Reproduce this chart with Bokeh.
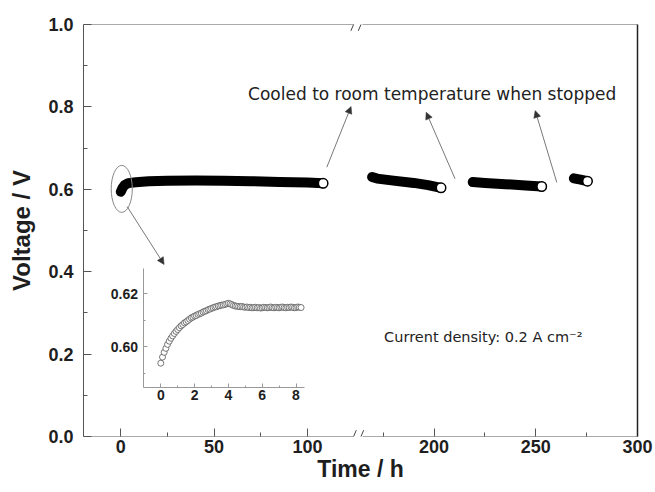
from bokeh.plotting import figure
from bokeh.models import (Range1d, LinearAxis, FixedTicker, PrintfTickFormatter,
                          Arrow, NormalHead, Label)
from bokeh.embed import file_html
from bokeh.resources import INLINE

# ---------------- data ----------------
seg1_time = [0, 1, 2, 4, 8, 15, 25, 40, 55, 70, 85, 100, 108.4]
seg1_volt = [0.594, 0.604, 0.610, 0.615, 0.617, 0.6195, 0.621, 0.6215, 0.621, 0.6195, 0.618, 0.6165, 0.6145]
seg2_time = [169.5, 172, 180, 190, 197, 203.4]
seg2_volt = [0.630, 0.626, 0.621, 0.6155, 0.610, 0.6036]
seg3_time = [219, 225, 235, 245, 252.9]
seg3_volt = [0.6175, 0.6155, 0.6125, 0.609, 0.6068]
seg4_time = [268.7, 272, 275.4]
seg4_volt = [0.6265, 0.6235, 0.6197]

inset_time = [0.0, 0.1, 0.2, 0.3, 0.4, 0.5, 0.6, 0.7, 0.8, 0.9,
              1.0, 1.1, 1.2, 1.3, 1.4, 1.5, 1.6, 1.7, 1.8, 1.9,
              2.0, 2.1, 2.2, 2.3, 2.4, 2.5, 2.6, 2.7, 2.8, 2.9,
              3.0, 3.1, 3.2, 3.3, 3.4, 3.5, 3.6, 3.7, 3.8, 3.9,
              4.0, 4.1, 4.2, 4.3, 4.4, 4.5, 4.6, 4.7, 4.8, 4.9,
              5.0, 5.1, 5.2, 5.3, 5.4, 5.5, 5.6, 5.7, 5.8, 5.9,
              6.0, 6.1, 6.2, 6.3, 6.4, 6.5, 6.6, 6.7, 6.8, 6.9,
              7.0, 7.1, 7.2, 7.3, 7.4, 7.5, 7.6, 7.7, 7.8, 7.9,
              8.0, 8.1, 8.2, 8.3]
inset_volt = [0.5937, 0.5960, 0.5978, 0.5993, 0.6008, 0.6020, 0.6031, 0.6040, 0.6049, 0.6057,
              0.6064, 0.6071, 0.6078, 0.6083, 0.6089, 0.6093, 0.6098, 0.6103, 0.6108, 0.6111,
              0.6115, 0.6117, 0.6121, 0.6124, 0.6126, 0.6130, 0.6133, 0.6135, 0.6139, 0.6141,
              0.6144, 0.6146, 0.6149, 0.6150, 0.6153, 0.6154, 0.6156, 0.6157, 0.6159, 0.6161,
              0.6163, 0.6161, 0.6158, 0.6155, 0.6153, 0.6152, 0.6151, 0.6150, 0.6151, 0.6149,
              0.6148, 0.6149, 0.6147, 0.6148, 0.6146, 0.6147, 0.6148, 0.6146, 0.6147, 0.6145,
              0.6146, 0.6148, 0.6147, 0.6146, 0.6147, 0.6149, 0.6147, 0.6146, 0.6148, 0.6147,
              0.6146, 0.6148, 0.6149, 0.6147, 0.6146, 0.6148, 0.6147, 0.6149, 0.6148, 0.6146,
              0.6147, 0.6149, 0.6148, 0.6147]

y_ticks = [0.0, 0.2, 0.4, 0.6, 0.8, 1.0]
y_minor = [0.1, 0.3, 0.5, 0.7, 0.9]
x_ticks_left = [0, 50, 100]
x_minor_left = [25, 75]
x_ticks_right = [200, 250, 300]
x_minor_right = [175, 225, 275]
inset_x_ticks = [0, 2, 4, 6, 8]
inset_x_minor = [1, 3, 5, 7]
inset_y_ticks = [0.60, 0.62]
inset_y_minor = [0.59, 0.61]

# ---------------- geometry / scales ----------------
FRAME_W, FRAME_H = 554, 412
LEFT_START, PX_PER_H_LEFT = -20.0, 1.866
RIGHT_END, PX_PER_H_RIGHT = 300.0, 2.034
BREAK_LEFT, BREAK_RIGHT = 124.7, 164.9     # axis ends on each side of the break
SLASHES = [124.75, 128.7]                   # break marks (left-scale hours)

left_end = LEFT_START + FRAME_W / PX_PER_H_LEFT
right_start = RIGHT_END - FRAME_W / PX_PER_H_RIGHT


def right_to_left(r):
    """position of a right-segment hour on the left-segment scale (same screen x)"""
    return round(LEFT_START + (r - right_start) * PX_PER_H_RIGHT / PX_PER_H_LEFT, 4)


INSET_T0_PX, INSET_PX_PER_H = 77.3, 16.9
INSET_V060_PX, INSET_PX_PER_V = 90.0, 2650.0
ix_start = -INSET_T0_PX / INSET_PX_PER_H
ix_end = ix_start + FRAME_W / INSET_PX_PER_H
iy_start = 0.60 - INSET_V060_PX / INSET_PX_PER_V
iy_end = iy_start + FRAME_H / INSET_PX_PER_V
INSET_XB = (-1.05, 8.52)
INSET_YB = (0.5846, 0.6295)

p = figure(width=653, height=484, output_backend="svg", toolbar_location=None,
           x_range=Range1d(LEFT_START, left_end), y_range=Range1d(0, 1.0),
           x_axis_location=None, y_axis_location=None,
           min_border_left=83, min_border_right=16, min_border_top=24, min_border_bottom=48)
p.extra_x_ranges = {"right": Range1d(right_start, RIGHT_END), "ix": Range1d(ix_start, ix_end)}
p.extra_y_ranges = {"iy": Range1d(iy_start, iy_end)}
p.outline_line_color = None
p.xgrid.visible = False
p.ygrid.visible = False
p.background_fill_color = "white"
p.border_fill_color = "white"

AX = "#555555"
TXT = "#1e1e1e"
FONT = "Liberation Sans"


def style(ax, size="18px", tin=8, mtin=4):
    ax.axis_line_color = AX
    ax.major_tick_line_color = AX
    ax.minor_tick_line_color = AX
    ax.major_tick_in = tin
    ax.major_tick_out = 0
    ax.minor_tick_in = mtin
    ax.minor_tick_out = 0
    ax.major_label_text_font = FONT
    ax.major_label_text_font_style = "bold"
    ax.major_label_text_font_size = size
    ax.major_label_text_color = TXT


# main y axis
ay = LinearAxis(ticker=FixedTicker(ticks=y_ticks, minor_ticks=y_minor),
                formatter=PrintfTickFormatter(format="%.1f"))
style(ay)
ay.major_label_standoff = 10
ay.axis_label = "Voltage / V"
ay.axis_label_text_font = FONT
ay.axis_label_text_font_style = "bold"
ay.axis_label_text_font_size = "24px"
ay.axis_label_text_color = TXT
ay.axis_label_standoff = 10
p.add_layout(ay, "left")

# bottom axis: ticks + labels of both segments (right segment mapped onto the same screen x)
bottom_ticks = x_ticks_left + [right_to_left(r) for r in x_ticks_right]
bottom_minor = x_minor_left + [right_to_left(r) for r in x_minor_right]
ab1 = LinearAxis(ticker=FixedTicker(ticks=bottom_ticks, minor_ticks=bottom_minor))
ab1.major_label_overrides = {right_to_left(r): str(r) for r in x_ticks_right}
style(ab1)
ab1.axis_line_color = None
ab1.major_label_standoff = 3
ab1.axis_label = "Time / h"
ab1.axis_label_text_font = FONT
ab1.axis_label_text_font_style = "bold"
ab1.axis_label_text_font_size = "23px"
ab1.axis_label_text_color = TXT
ab1.axis_label_standoff = 0
p.add_layout(ab1, "below")

# frame lines with the break (bottom and top)
for loc, side in ((0, "below"), (1.0, "above")):
    a1 = LinearAxis(ticker=FixedTicker(ticks=[]), bounds=(LEFT_START, BREAK_LEFT),
                    fixed_location=loc)
    style(a1)
    p.add_layout(a1, side)
    a2 = LinearAxis(x_range_name="right", ticker=FixedTicker(ticks=[]),
                    bounds=(BREAK_RIGHT, RIGHT_END), fixed_location=loc)
    style(a2)
    p.add_layout(a2, side)

# right frame line
ar = LinearAxis(ticker=FixedTicker(ticks=[]))
style(ar)
ar.axis_line_color = "#222222"
ar.axis_line_width = 1.5
p.add_layout(ar, "right")

# break marks
dxs, dys = 2.7 / PX_PER_H_LEFT, 6.3 / FRAME_H
for yb in (0.0, 1.0):
    for xs in SLASHES:
        p.add_layout(Arrow(end=None, start=None, x_start=xs - dxs, y_start=yb - dys,
                           x_end=xs + dxs, y_end=yb + dys, line_color="#444444", line_width=1))

# ---------------- main data ----------------
for t, v, rn in ((seg1_time, seg1_volt, "default"), (seg2_time, seg2_volt, "right"),
                 (seg3_time, seg3_volt, "right"), (seg4_time, seg4_volt, "right")):
    p.line(t, v, x_range_name=rn, line_width=10, line_color="black",
           line_cap="round", line_join="round")
    p.scatter([t[-1]], [v[-1]], x_range_name=rn, size=9.5, fill_color="white",
              line_color="black", line_width=1.5)

# ellipse around the start
p.ellipse(x=[0.5], y=[0.601], width=[11.3], height=[0.114], fill_color=None,
          line_color="#888888", line_width=1)

# ---------------- inset ----------------
ial = LinearAxis(x_range_name="ix", y_range_name="iy", fixed_location=INSET_XB[0],
                 bounds=INSET_YB,
                 ticker=FixedTicker(ticks=inset_y_ticks, minor_ticks=inset_y_minor),
                 formatter=PrintfTickFormatter(format="%.2f"))
style(ial, size="14px", tin=4, mtin=2)
ial.axis_line_color = "#999999"
ial.major_tick_line_color = "#999999"
ial.minor_tick_line_color = "#999999"
ial.major_label_standoff = 5
p.add_layout(ial, "left")

iab = LinearAxis(x_range_name="ix", y_range_name="iy", fixed_location=INSET_YB[0],
                 bounds=INSET_XB,
                 ticker=FixedTicker(ticks=inset_x_ticks, minor_ticks=inset_x_minor))
style(iab, size="14px", tin=4, mtin=2)
iab.axis_line_color = "#999999"
iab.major_tick_line_color = "#999999"
iab.minor_tick_line_color = "#999999"
iab.major_label_standoff = 3
p.add_layout(iab, "below")

p.scatter(inset_time, inset_volt, x_range_name="ix", y_range_name="iy", size=6,
          fill_color="white", line_color="#555555", line_width=0.8)

# ---------------- annotations ----------------
def arrow(xs, ys, xe, ye, rn="default"):
    p.add_layout(Arrow(end=NormalHead(size=7, fill_color="#333333", line_color="#333333",
                                      line_width=0.5),
                       x_start=xs, y_start=ys, x_end=xe, y_end=ye, x_range_name=rn,
                       line_color="#555555", line_width=0.8))


arrow(110.4, 0.6536, 123.4, 0.801)
arrow(210.3, 0.6255, 196.1, 0.787, "right")
arrow(260.3, 0.617, 249.7, 0.791, "right")
arrow(3.4, 0.558, 23.2, 0.4175)

p.add_layout(Label(x=68.2, y=0.8325, text="Cooled to room temperature when stopped",
                   text_font="DejaVu Sans", text_font_size="17px", text_color="#222222",
                   text_align="left", text_baseline="middle"))
p.add_layout(Label(x=141.1, y=0.2427, text="Current density: 0.2 A cm\u207b\u00b2",
                   text_font="DejaVu Sans", text_font_size="14.5px", text_color="#222222",
                   text_align="left", text_baseline="middle"))

open("out.html", "w").write(file_html(p, INLINE))
